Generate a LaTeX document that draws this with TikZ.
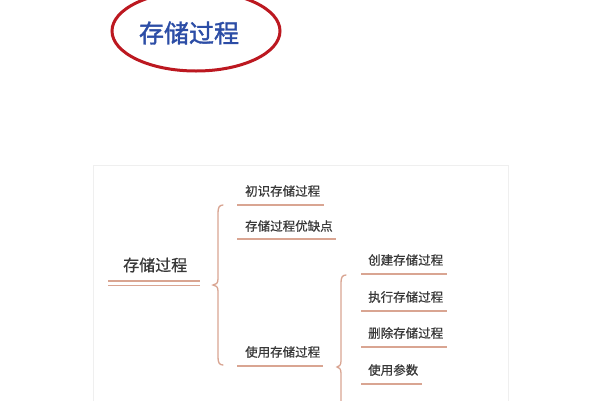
\documentclass[tikz,border=0pt]{standalone}
\usepackage{fontspec}
\setmainfont{Noto Sans CJK SC}
\newfontfamily\mytxt[FakeBold=0.6]{Noto Sans CJK SC}
\newfontfamily\mytitle[FakeBold=1.4]{Noto Sans CJK SC}
\definecolor{lineC}{HTML}{D9A592}
\definecolor{txtC}{HTML}{383838}
\definecolor{titleC}{HTML}{2C4DA6}
\definecolor{ringC}{HTML}{BC1820}
\definecolor{boxC}{HTML}{EFEFEF}
\tikzset{
  lvlone/.style={anchor=west, inner sep=0pt, text=txtC, font=\mytxt\fontsize{16}{18}\selectfont},
  lvltwo/.style={anchor=west, inner sep=0pt, text=txtC, font=\mytxt\fontsize{12.5}{14}\selectfont},
  uline/.style={draw=lineC, line width=1.7pt},
  bracec/.style={draw=lineC, line width=1.3pt, line cap=round},
}
\begin{document}
\begin{tikzpicture}[x=1pt,y=-1pt]
\clip (0,0) rectangle (600,400);
\fill[white] (0,0) rectangle (600,400);
% title
\node[text=titleC, font=\mytitle\fontsize{25}{28}\selectfont, inner sep=0pt] (title) at (189,33) {存储过程};
\draw[ringC, line width=3pt] (196,31) ellipse [x radius=84, y radius=40];
% panel
\draw[boxC, line width=1pt] (93,165) rectangle (508,430);
% level 1
\node[lvlone] (root) at (123,265) {存储过程};
\draw[uline, line width=1.6pt] (108,281) -- (200,281);
\draw[uline, line width=1.6pt] (108,285.5) -- (200,285.5);
% brace 1
\coordinate (b1top) at (223,205);
\coordinate (b1tip) at (213,285);
\coordinate (b1bot) at (223,365);
\draw[bracec] (b1top) .. controls (219,205) and (218,208) .. (218,213) -- (218,279)
  .. controls (218,283) and (216,285) .. (b1tip)
  .. controls (216,285) and (218,287) .. (218,291) -- (218,357)
  .. controls (218,362) and (219,365) .. (b1bot);
% level 2
\node[lvltwo] (a1) at (245,191) {初识存储过程};
\draw[uline] (237,205) -- (324,205);
\node[lvltwo] (a2) at (245,226) {存储过程优缺点};
\draw[uline] (237,239) -- (336,239);
\node[lvltwo] (a3) at (245,352) {使用存储过程};
\draw[uline] (237,366) -- (323,366);
% brace 2
\coordinate (b2top) at (346,275);
\coordinate (b2tip) at (337,367);
\coordinate (b2bot) at (346,459);
\draw[bracec] (b2top) .. controls (342,275) and (341,278) .. (341,283) -- (341,361)
  .. controls (341,365) and (339,367) .. (b2tip)
  .. controls (339,367) and (341,369) .. (341,373) -- (341,451)
  .. controls (341,456) and (342,459) .. (b2bot);
% level 3
\node[lvltwo] (c1) at (368,260) {创建存储过程};
\draw[uline] (361,274) -- (447,274);
\node[lvltwo] (c2) at (368,297) {执行存储过程};
\draw[uline] (361,311) -- (447,311);
\node[lvltwo] (c3) at (368,333) {删除存储过程};
\draw[uline] (361,347) -- (447,347);
\node[lvltwo] (c4) at (368,370) {使用参数};
\draw[uline] (361,384) -- (422,384);
\end{tikzpicture}
\end{document}
